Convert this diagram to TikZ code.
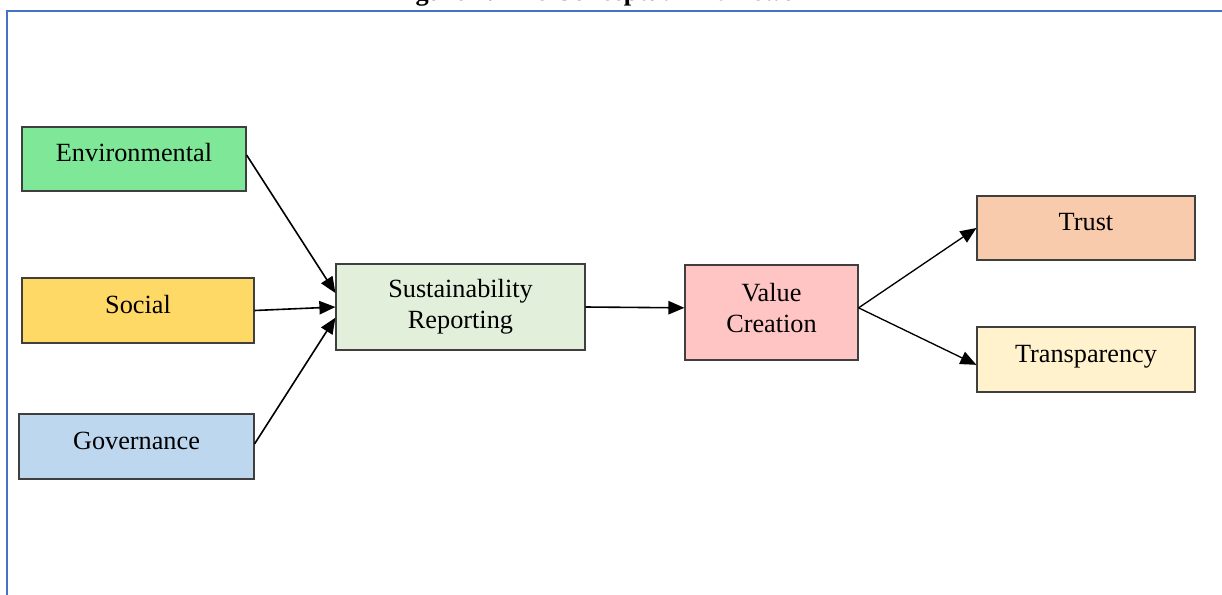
\documentclass[tikz,border=0pt]{standalone}
\usepackage{fontspec}
\setmainfont{Liberation Serif}
\usepackage{tikz}
\usetikzlibrary{arrows.meta}
\usetikzlibrary{positioning}
\definecolor{framecol}{HTML}{4472C4}
\definecolor{boxgrey}{HTML}{3F3F3F}
\definecolor{envcol}{HTML}{7EE898}
\definecolor{soccol}{HTML}{FFD966}
\definecolor{govcol}{HTML}{BDD7EE}
\definecolor{repcol}{HTML}{E2EFDA}
\definecolor{valcol}{HTML}{FFC5C5}
\definecolor{trustcol}{HTML}{F8CBAD}
\definecolor{transcol}{HTML}{FFF2CC}

\begin{document}
\begin{tikzpicture}[x=0.75pt,y=-0.75pt,
	box/.style={draw=boxgrey, line width=0.9pt, align=center, inner sep=0pt,
		font=\fontsize{19.7}{23.5}\selectfont},
	lift/.style={text height=0.7em, text depth=0.3em},
	link/.style={-{Triangle[length=12pt,width=10pt]}, line width=1.2pt}]
		\useasboundingbox (0,0) rectangle (1222,594);
		\clip (0,0) rectangle (1222,594);
		
		% frame and (cut) caption
		\draw[framecol, line width=1.6pt] (7,11) rectangle (1260,640);
		\node[font=\bfseries\fontsize{19.7}{23.5}\selectfont, anchor=base, inner sep=0pt] (title) at (607,0) {Figure 1: The Conceptual Framework};
		
		% dimensions
		\node[box, lift, fill=envcol, minimum width=168pt, minimum height=48pt] (env) at (134,159) {Environmental};
		\node[box, lift, fill=soccol, minimum width=174pt, minimum height=48.75pt] (soc) at (138,310.5) {Social};
		\node[box, lift, fill=govcol, minimum width=176.25pt, minimum height=48.75pt] (gov) at (136.5,446.5) {Governance};
		
		% middle
		\node[box, fill=repcol, minimum width=186.75pt, minimum height=64.5pt] (rep) at (460.5,307) {Sustainability\\Reporting};
		\node[box, fill=valcol, minimum width=129.75pt, minimum height=71.25pt] (val) at (771.5,312.5) {Value\\Creation\\[-16.5pt]};
		
		% outcomes
		\node[box, lift, fill=trustcol, minimum width=163.5pt, minimum height=48pt] (trust) at (1086,228) {Trust};
		\node[box, lift, fill=transcol, minimum width=163.5pt, minimum height=48.75pt] (trans) at (1086,359.5) {Transparency};
		
		\draw[link] ([yshift=3pt]env.east) -- ([yshift=10.5pt]rep.west);
		\draw[link] (soc.east) -- (rep.west);
		\draw[link] ([yshift=2pt]gov.east) -- ([yshift=-8pt]rep.west);
		\draw[link] (rep.east) -- ([yshift=3.5pt]val.west);
		\draw[link, line width=1pt] ([yshift=3.5pt]val.east) -- (trust.west);
		\draw[link, line width=1pt] ([yshift=3.5pt]val.east) -- ([yshift=-4pt]trans.west);
\end{tikzpicture}
\end{document}
